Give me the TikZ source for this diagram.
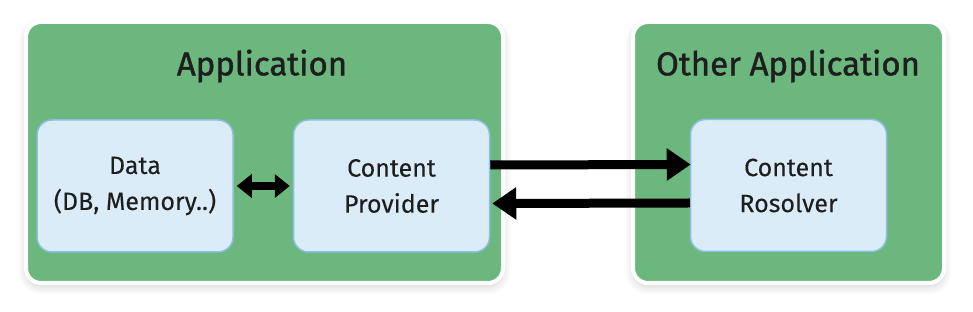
\documentclass[tikz,border=0pt]{standalone}
\usepackage{fontspec}
\setmainfont{Fira Sans}
\newfontfamily\titlefont{Fira Sans}[FakeBold=1.2]
\newfontfamily\boxfont{Fira Sans}[FakeBold=0.1]
\usetikzlibrary{arrows.meta,shadows.blur}
\definecolor{appgreen}{HTML}{6BB77E}
\definecolor{boxblue}{HTML}{DAECF8}
\definecolor{boxedge}{HTML}{8DBFE2}
\definecolor{txt}{HTML}{1E1E1E}
\tikzset{
  container/.style={draw=white, line width=4pt, fill=appgreen, rounded corners=15pt,
    minimum height=261pt, inner sep=0pt,
    blur shadow={shadow xshift=0pt, shadow yshift=-4pt, shadow blur steps=12, shadow opacity=18, shadow blur radius=8pt}},
  comp/.style={draw=boxedge, line width=1.5pt, fill=boxblue, rounded corners=15pt,
    minimum width=196pt, minimum height=132pt, align=center, text=txt,
    font=\boxfont\fontsize{25}{36}\selectfont},
  title/.style={text=txt, font=\titlefont\fontsize{33}{38}\selectfont},
  bigarrow/.style={line width=9pt, -{Triangle[length=24pt,width=31pt]}},
  dblarrow/.style={line width=8pt, {Triangle[length=15pt,width=23pt]}-{Triangle[length=15pt,width=23pt]}},
}
\begin{document}
\begin{tikzpicture}[x=1pt,y=1pt]
\useasboundingbox (0,0) rectangle (973,312);
\node[container, minimum width=477pt] (app) at (264.5,159.5) {};
\node[container, minimum width=311pt] (oapp) at (788.5,159.5) {};
\node[title] (apptitle) at (262,246) {Application};
\node[title] (oapptitle) at (788,246) {Other Application};
\node[comp] (data) at (135,126) {Data\\(DB, Memory..)};
\node[comp] (cp) at (391.5,126) {Content\\Provider};
\node[comp] (cr) at (788.5,126.5) {Content\\Rosolver};
\draw[dblarrow] ([xshift=3pt]data.east) -- ([xshift=-3pt]cp.west);
\draw[bigarrow] ([yshift=21pt]cp.east) -- ([yshift=21pt,xshift=1pt]cr.west);
\draw[bigarrow] ([yshift=-17.5pt]cr.west) -- ([yshift=-17.5pt,xshift=2pt]cp.east);
\end{tikzpicture}
\end{document}
